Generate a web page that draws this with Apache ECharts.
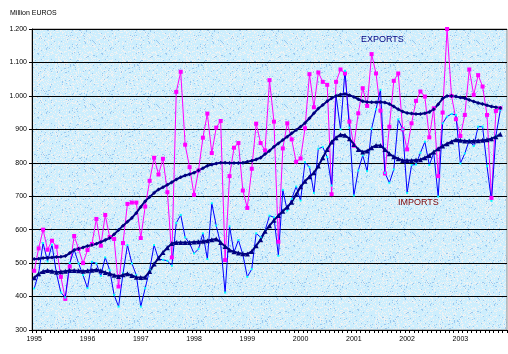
<!DOCTYPE html>
<html>
<head>
<meta charset="utf-8">
<script src="https://cdn.jsdelivr.net/npm/echarts@6/dist/echarts.min.js"></script>
<style>
  html, body { margin: 0; padding: 0; background: #ffffff; }
  #main { width: 508px; height: 354px; }
</style>
</head>
<body>
<div id="main"></div>
<script>
  // years on the axis (one label per January)
  var years = ['1995', '1996', '1997', '1998', '1999', '2000', '2001', '2002', '2003'];
  var monthsShown = 107; // Jan 1995 .. Nov 2003 on the axis

  // monthly values, million euros
  var exportsRaw = [
    477, 544, 600, 540, 567, 549, 459, 393, 490, 581, 542, 500,
    539, 557, 632, 552, 644, 578, 572, 430, 560, 677, 681, 681,
    575, 669, 746, 815, 765, 812, 712, 517, 1012, 1072, 854, 787,
    704, 777, 875, 947, 829, 905, 925, 509, 760, 845, 859, 717,
    665, 782, 917, 859, 837, 1047, 923, 564, 843, 918, 870, 803,
    813, 903, 1065, 966, 1070, 1042, 1033, 706, 1042, 1079, 1067, 923,
    851, 948, 1023, 970, 1125, 1067, 956, 768, 908, 1045, 1067, 900,
    840, 918, 985, 1013, 998, 876, 963, 760, 950, 1200, 1000, 930,
    880, 943, 1079, 1003, 1062, 1028, 943, 695, 955, 963
  ];
  var importsRaw = [
    424, 470, 560, 505, 555, 470, 412, 397, 500, 540, 499, 464,
    425, 504, 499, 462, 517, 479, 405, 370, 469, 554, 499, 464,
    370, 425, 480, 554, 512, 510, 507, 492, 620, 644, 577, 559,
    529, 542, 589, 512, 679, 612, 557, 412, 610, 532, 569, 525,
    459, 482, 589, 577, 597, 642, 637, 522, 719, 657, 692, 729,
    687, 802, 787, 710, 842, 847, 817, 732, 1000, 900, 1075, 905,
    702, 777, 822, 775, 902, 960, 1018, 770, 740, 780, 930, 900,
    710, 793, 795, 830, 863, 793, 830, 699, 918, 938, 946, 943,
    798, 828, 868, 850, 908, 908, 790, 686, 880, 958
  ];
  var exportsTrend = [
    512, 513, 515, 516, 517, 518, 519, 521, 530, 539, 543, 547,
    551, 554, 558, 563, 569, 575, 586, 599, 612, 624, 635, 650,
    668, 685, 698, 710, 720, 727, 734, 742, 750, 757, 762, 766,
    770, 777, 784, 791, 795, 798, 800, 800, 799, 799, 799, 800,
    803, 806, 810, 815, 826, 836, 848, 858, 868, 878, 888, 898,
    908, 919, 933, 948, 962, 973, 984, 993, 1000, 1004, 1006, 1002,
    997, 990, 984, 982, 981, 981, 982, 980, 976, 968, 960, 953,
    949, 947, 946, 946, 948, 952, 960, 975, 992, 1000, 1000, 998,
    995, 993, 988, 983, 979, 976, 972, 968, 966, 964
  ];
  var importsTrend = [
    456, 468, 475, 478, 476, 473, 474, 476, 478, 478, 477, 476,
    477, 479, 480, 477, 472, 468, 464, 460, 465, 468, 463, 458,
    457, 458, 475, 497, 515, 532, 546, 559, 562, 562, 562, 562,
    563, 564, 565, 567, 570, 572, 562, 550, 539, 534, 530, 528,
    527, 535, 552, 570, 595, 612, 628, 642, 655, 668, 682, 705,
    728, 745, 758, 770, 790, 815, 840, 862, 875, 884, 882, 872,
    855, 840, 832, 835, 845, 852, 852, 840, 827, 818, 812, 807,
    807, 807, 808, 809, 815, 822, 832, 842, 850, 857, 863, 869,
    867, 865, 865, 865, 866, 867, 869, 872, 878, 885
  ];

  var months = [];
  for (var i = 0; i < monthsShown; i++) {
    months.push(years[Math.floor(i / 12)] + '-' + (i % 12 + 1));
  }

  function euroFmt(v) {
    // 1200 -> 1.200
    if (v >= 1000) {
      var s = String(v);
      return s.slice(0, s.length - 3) + '.' + s.slice(s.length - 3);
    }
    return String(v);
  }

  // speckled light blue fill for the plot area (fixed hash, not data)
  function speckle() {
    var c = document.createElement('canvas');
    c.width = 64; c.height = 64;
    var g = c.getContext('2d');
    g.fillStyle = '#cdeefd';
    g.fillRect(0, 0, 64, 64);
    for (var y = 0; y < 64; y++) {
      for (var x = 0; x < 64; x++) {
        var h = ((x * 73856093) ^ (y * 19349663)) >>> 0;
        h = (h ^ (h >>> 13)) * 1274126177 >>> 0;
        var r = h % 100;
        if (r < 22) { g.fillStyle = '#eef2f4'; g.fillRect(x, y, 1, 1); }
        else if (r < 25) { g.fillStyle = '#9cc8ee'; g.fillRect(x, y, 1, 1); }
      }
    }
    return c;
  }

  var chart = echarts.init(document.getElementById('main'));
  var option = {
    animation: false,
    textStyle: { fontFamily: 'Liberation Sans, Arial, sans-serif' },
    grid: {
      left: 32, right: 1, top: 29, bottom: 24,
      show: true,
      backgroundColor: { image: speckle(), repeat: 'repeat' },
      borderColor: '#8a8a8a',
      borderWidth: 1
    },
    graphic: [
      { type: 'text', left: 10, top: 10,
        style: { text: 'Million EUROS', fontSize: 7, fill: '#000', fontFamily: 'Liberation Sans, Arial' } },
      { type: 'text', left: 361, top: 35,
        style: { text: 'EXPORTS', fontSize: 9, fill: '#000080', fontFamily: 'Liberation Sans, Arial' } },
      { type: 'text', left: 398, top: 198,
        style: { text: 'IMPORTS', fontSize: 9, fill: '#800000', fontFamily: 'Liberation Sans, Arial' } }
    ],
    xAxis: {
      type: 'category',
      data: months,
      boundaryGap: true,
      axisLine: { lineStyle: { color: '#000', width: 1 } },
      axisTick: { show: true, interval: 0, length: 3, lineStyle: { color: '#000' } },
      axisLabel: {
        interval: function (idx) { return idx % 12 === 0; },
        formatter: function (v) { return v.split('-')[0]; },
        fontSize: 7, color: '#000', margin: 6
      },
      splitLine: { show: false }
    },
    yAxis: {
      type: 'value',
      min: 300, max: 1200, interval: 100,
      axisLine: { show: true, lineStyle: { color: '#000', width: 1 } },
      axisTick: { show: true, length: 3, lineStyle: { color: '#000' } },
      axisLabel: { formatter: euroFmt, fontSize: 7, color: '#000', margin: 5 },
      splitLine: { show: true, lineStyle: { color: '#000', width: 1 } }
    },
    series: [
      {
        name: 'Exports', type: 'line', data: exportsRaw,
        symbol: 'rect', symbolSize: 4, showAllSymbol: true,
        lineStyle: { color: '#ff00ff', width: 1 },
        itemStyle: { color: '#ff00ff' }
      },
      {
        name: 'Imports', type: 'line', data: importsRaw,
        symbol: 'rect', symbolSize: 2, showAllSymbol: true,
        lineStyle: { color: '#0000ff', width: 1 },
        itemStyle: { color: '#00ffff' }
      },
      {
        name: 'Exports trend', type: 'line', data: exportsTrend,
        symbol: 'diamond', symbolSize: 4, showAllSymbol: true,
        lineStyle: { color: '#000080', width: 2 },
        itemStyle: { color: '#000080' }
      },
      {
        name: 'Imports trend', type: 'line', data: importsTrend,
        symbol: 'triangle', symbolSize: 5, showAllSymbol: true,
        lineStyle: { color: '#000080', width: 2 },
        itemStyle: { color: '#000080' }
      }
    ]
  };
  chart.setOption(option);
</script>
</body>
</html>
